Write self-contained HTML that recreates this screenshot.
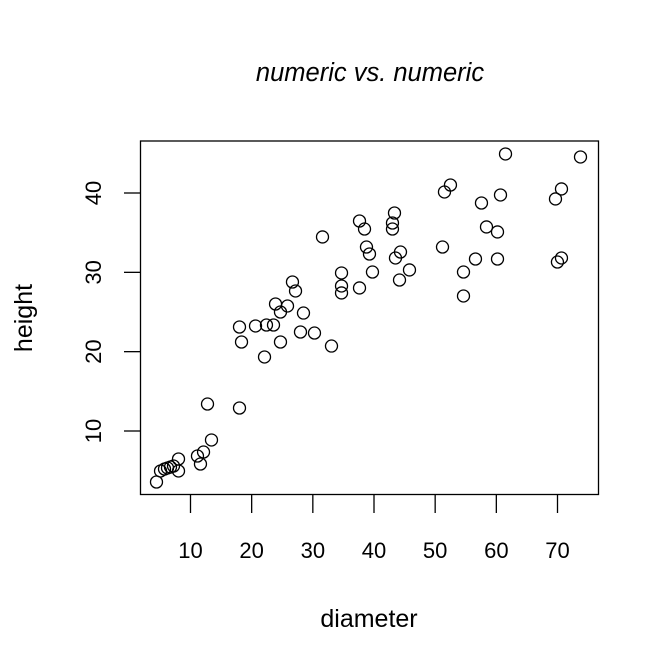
<!DOCTYPE html>
<html><head><meta charset="utf-8"><style>
html,body{margin:0;padding:0;background:#fff;}
svg{display:block;font-family:"Liberation Sans",Arial,sans-serif;}
</style></head><body>
<svg id="chart" width="672" height="672">
<text x="370" y="81" text-anchor="middle" font-size="25.5" font-style="italic">numeric vs. numeric</text>
<text x="369" y="627" text-anchor="middle" font-size="25">diameter</text>
<text transform="translate(32,318) rotate(-90)" text-anchor="middle" font-size="25">height</text>
<rect x="140.5" y="141" width="458" height="353.5" fill="none" stroke="#000" stroke-width="1.3"/>
<g id="xaxis"></g>
<g id="yaxis"></g>
<g id="points"></g>
</svg>
<script>
const diameter=[4.44,5.10,5.75,6.24,6.73,7.22,8.04,8.04,11.14,12.13,11.63,13.43,12.78,18.01,18.01,18.34,20.63,22.42,23.57,22.10,24.71,23.90,24.71,25.86,28.47,27.98,30.27,33.05,27.17,26.67,31.58,37.63,38.45,43.35,43.02,43.02,38.77,39.26,44.33,43.51,51.20,39.75,34.69,34.69,34.69,37.63,45.80,44.17,61.50,73.76,52.50,51.52,60.68,57.57,70.65,69.67,58.39,60.19,56.59,60.19,70.65,69.99,54.63,54.63];
const height=[3.57,4.96,5.21,5.34,5.46,5.59,4.96,6.47,6.85,7.35,5.84,8.87,13.40,12.90,23.11,21.22,23.24,23.36,23.36,19.33,21.22,26.01,25.00,25.76,24.87,22.48,22.35,20.71,27.65,28.78,34.46,36.47,35.46,37.48,36.22,35.46,33.19,32.31,32.56,31.81,33.19,30.04,29.92,28.28,27.40,28.03,30.30,29.03,44.92,44.54,41.01,40.13,39.75,38.74,40.51,39.25,35.72,35.09,31.68,31.68,31.81,31.30,30.04,27.02];
const xTicks=[10,20,30,40,50,60,70];
const yTicks=[10,20,30,40];
const NS="http://www.w3.org/2000/svg";
function sx(v){return 190.5+(v-10)*367/60;}
function sy(v){return 431-(v-10)*238/30;}
const xa=document.getElementById('xaxis'),ya=document.getElementById('yaxis'),pg=document.getElementById('points');
function mk(tag,attrs,parent){const e=document.createElementNS(NS,tag);for(const k in attrs)e.setAttribute(k,attrs[k]);parent.appendChild(e);return e;}
xTicks.forEach(t=>{
 const tk=mk('line',{x1:sx(t),x2:sx(t),y1:494,y2:513,stroke:'#000','stroke-width':'1.3'},xa);
 
 
 const tx=mk('text',{x:sx(t),y:558,'text-anchor':'middle','font-size':'22'},xa);
 tx.textContent=t;
 
 
});
yTicks.forEach(t=>{
 const tk=mk('line',{x1:124,x2:140,y1:sy(t),y2:sy(t),stroke:'#000','stroke-width':'1.3'},ya);
 
 
 const tx=mk('text',{transform:'translate(101,'+sy(t)+') rotate(-90)','text-anchor':'middle','font-size':'22'},ya);
 tx.textContent=t;
 
 
});
diameter.forEach((d,i)=>{
 const c=mk('circle',{cx:sx(d),cy:sy(height[i]),r:6,fill:'none',stroke:'#000','stroke-width':'1.3'},pg);
 
 
});
</script>
</body></html>
